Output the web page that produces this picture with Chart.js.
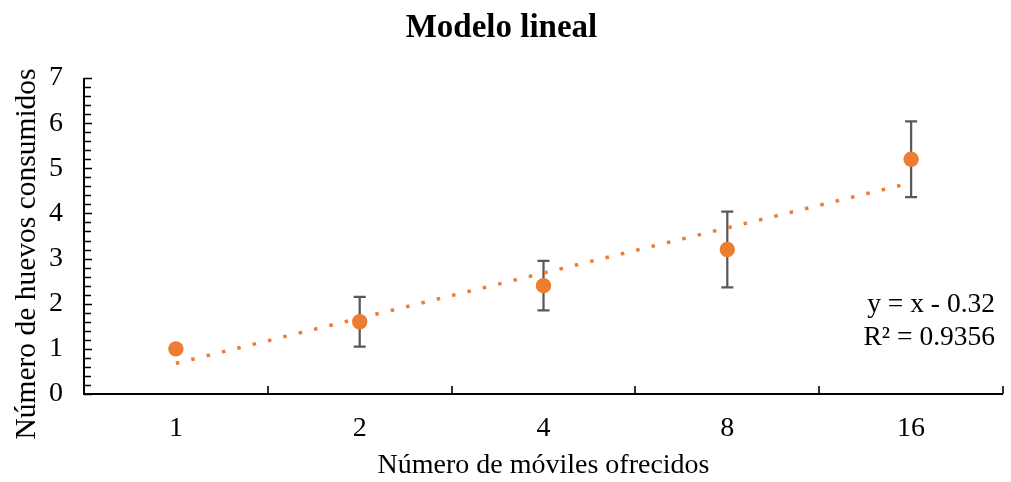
<!DOCTYPE html>
<html>
<head>
<meta charset="utf-8">
<script src="https://cdn.jsdelivr.net/npm/chart.js@4"></script>
<style>
  html, body { margin: 0; padding: 0; background: #ffffff; }
  canvas { display: block; }
</style>
</head>
<body>
<canvas id="grafico" width="1011" height="482"></canvas>
<script>
// Número de móviles ofrecidos (categorías del eje X)
const categories = ['1', '2', '4', '8', '16'];
// Número medio de huevos consumidos
const huevos = [1.0, 1.6, 2.4, 3.2, 5.2];
// Barras de error (±) de cada media
const errorBars = [0, 0.55, 0.55, 0.84, 0.84];
// Línea de tendencia lineal y = x - 0.32 evaluada en cada categoría
const tendencia = [0.68, 1.68, 2.68, 3.68, 4.68];
// Marcas del eje Y
const yTicks = [0, 1, 2, 3, 4, 5, 6, 7];
// Texto de la ecuación de la tendencia
const ecuacion = ['y = x - 0.32', 'R\u00B2 = 0.9356'];

const SERIF = "'Liberation Serif', 'Times New Roman', serif";
const NARANJA = '#ED7D31';

// Ejes con marcas hacia dentro, como en Excel
const ejesPlugin = {
  id: 'ejes',
  beforeDatasetsDraw(chart) {
    const { ctx, chartArea: a, scales: { x, y } } = chart;
    ctx.save();
    ctx.strokeStyle = '#000000';
    ctx.lineWidth = 2;
    ctx.beginPath();
    ctx.moveTo(a.left, a.top);
    ctx.lineTo(a.left, a.bottom);
    ctx.lineTo(a.right, a.bottom);
    ctx.stroke();
    // marcas mayores y menores del eje Y
    ctx.lineWidth = 1.6;
    ctx.beginPath();
    for (let i = 0; i < yTicks.length - 1; i++) {
      for (let k = 0; k < 5; k++) {
        const v = yTicks[i] + (yTicks[i + 1] - yTicks[i]) * k / 5;
        const py = Math.round(y.getPixelForValue(v)) + 0.5;
        const len = k === 0 ? 8 : 7;
        ctx.moveTo(a.left, py);
        ctx.lineTo(a.left + len, py);
      }
    }
    const pTop = Math.round(y.getPixelForValue(yTicks[yTicks.length - 1])) + 0.5;
    ctx.moveTo(a.left, pTop);
    ctx.lineTo(a.left + 8, pTop);
    // marcas entre categorías del eje X
    const n = categories.length;
    for (let i = 1; i <= n; i++) {
      const px = Math.round(x.left + (x.right - x.left) * i / n);
      ctx.moveTo(px, a.bottom);
      ctx.lineTo(px, a.bottom - 8);
    }
    ctx.stroke();
    ctx.restore();
  }
};

// Barras de error verticales con remates
const erroresPlugin = {
  id: 'errores',
  beforeDatasetsDraw(chart) {
    const { ctx, scales: { x, y } } = chart;
    ctx.save();
    ctx.strokeStyle = '#595959';
    ctx.lineWidth = 2.25;
    ctx.beginPath();
    huevos.forEach((v, i) => {
      const e = errorBars[i];
      if (!e) return;
      const px = x.getPixelForValue(i);
      const yHi = y.getPixelForValue(v + e);
      const yLo = y.getPixelForValue(v - e);
      ctx.moveTo(px, yHi);
      ctx.lineTo(px, yLo);
      ctx.moveTo(px - 6, yHi);
      ctx.lineTo(px + 6, yHi);
      ctx.moveTo(px - 6, yLo);
      ctx.lineTo(px + 6, yLo);
    });
    ctx.stroke();
    ctx.restore();
  }
};

// Título vertical del eje Y y ecuación de la tendencia
const textosPlugin = {
  id: 'textos',
  afterDraw(chart) {
    const { ctx } = chart;
    ctx.save();
    ctx.fillStyle = '#000000';
    ctx.font = '29.5px ' + SERIF;
    ctx.textAlign = 'center';
    ctx.textBaseline = 'middle';
    ctx.translate(27, 254);
    ctx.rotate(-Math.PI / 2);
    ctx.fillText('Número de huevos consumidos', 0, 0);
    ctx.restore();

    ctx.save();
    ctx.fillStyle = '#000000';
    ctx.font = '27.5px ' + SERIF;
    ctx.textAlign = 'right';
    ctx.textBaseline = 'middle';
    ctx.fillText(ecuacion[0], 995, 305);
    ctx.fillText(ecuacion[1], 995, 338);
    ctx.restore();
  }
};

new Chart(document.getElementById('grafico'), {
  type: 'line',
  data: {
    labels: categories,
    datasets: [
      {
        label: 'Huevos consumidos',
        data: huevos,
        showLine: false,
        pointRadius: 7.7,
        pointHoverRadius: 7.7,
        pointBackgroundColor: NARANJA,
        pointBorderWidth: 0,
        borderColor: NARANJA
      },
      {
        label: 'Lineal',
        data: tendencia,
        borderColor: NARANJA,
        borderWidth: 3.5,
        borderDash: [3.5, 12.3],
        borderCapStyle: 'butt',
        pointRadius: 0,
        fill: false,
        tension: 0
      }
    ]
  },
  options: {
    responsive: false,
    animation: false,
    devicePixelRatio: 1,
    layout: { padding: { left: 0, right: 8, top: 0, bottom: 0 } },
    plugins: {
      legend: { display: false },
      tooltip: { enabled: false },
      title: {
        display: true,
        text: 'Modelo lineal',
        color: '#000000',
        font: { family: SERIF, size: 33, weight: 'bold' },
        padding: { top: 9, bottom: 29.4 }
      }
    },
    scales: {
      x: {
        type: 'category',
        offset: true,
        grid: { display: false, drawTicks: false },
        border: { display: false },
        ticks: {
          color: '#000000',
          font: { family: SERIF, size: 28 },
          padding: 18,
          maxRotation: 0
        },
        title: {
          display: true,
          text: 'Número de móviles ofrecidos',
          color: '#000000',
          font: { family: SERIF, size: 28 },
          padding: { top: 0, bottom: 0 }
        },
        afterFit(scale) { scale.height = 88; }
      },
      y: {
        min: 0,
        max: 7,
        grid: { display: false, drawTicks: false },
        border: { display: false },
        ticks: {
          color: '#000000',
          font: { family: SERIF, size: 28 },
          padding: 21
        },
        afterBuildTicks(scale) { scale.ticks = yTicks.map(v => ({ value: v })); },
        afterFit(scale) { scale.width = 84; }
      }
    }
  },
  plugins: [ejesPlugin, erroresPlugin, textosPlugin]
});
</script>
</body>
</html>
